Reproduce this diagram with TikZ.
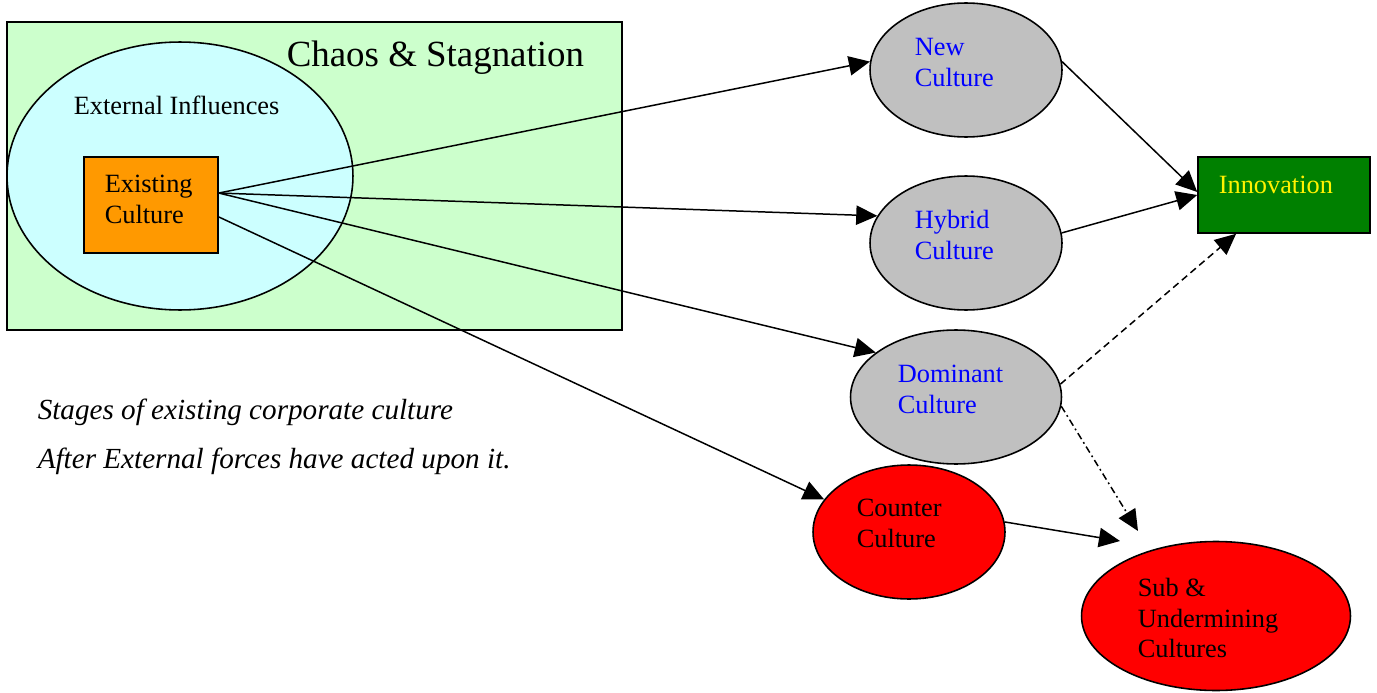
\documentclass[tikz,border=0pt]{standalone}
\usepackage{fontspec}
\setmainfont{Liberation Serif}
\usetikzlibrary{shapes.geometric,arrows.meta}
\definecolor{chaosgreen}{HTML}{CCFFCC}
\definecolor{influcyan}{HTML}{CCFFFF}
\definecolor{existorange}{HTML}{FF9900}
\definecolor{stagegray}{HTML}{C0C0C0}
\definecolor{innovgreen}{HTML}{008000}
\begin{document}
\begin{tikzpicture}[x=0.02cm, y=-0.02cm,
    every node/.style={inner sep=0pt, line width=0.9pt},
    blob/.style={ellipse, draw, minimum width=3.84cm, minimum height=2.68cm},
    lbl/.style={anchor=west, align=left, font=\fontsize{15}{17.6}\selectfont},
    arr/.style={line width=0.85pt, -{Triangle[length=12pt, width=11pt]}}]
    \useasboundingbox (0,0) rectangle (1377,693);

    % --- Chaos & Stagnation box with the existing culture ---
    \node[draw, fill=chaosgreen, minimum width=12.3cm, minimum height=6.16cm] (chaos) at (314.5,176) {};
    \node[anchor=west, font=\fontsize{21}{25}\selectfont] (chaosT) at (286,58) {Chaos \& Stagnation};
    \node[ellipse, draw, fill=influcyan, minimum width=6.92cm, minimum height=5.36cm] (extern) at (180,176) {};
    \node[lbl] (externT) at (73,105) {External Influences};
    \node[draw, fill=existorange, minimum width=2.68cm, minimum height=1.92cm] (exist) at (151,205) {};
    \node[lbl] (existT) at (104,199) {Existing\\Culture};

    % --- Stages after the external forces ---
    \node[blob, fill=stagegray] (new) at (966,70) {};
    \node[lbl, text=blue] (newT) at (914,62.5) {New\\Culture};
    \node[blob, fill=stagegray] (hybrid) at (966,243) {};
    \node[lbl, text=blue] (hybridT) at (914,235) {Hybrid\\Culture};
    \node[blob, fill=stagegray, minimum width=4.22cm] (dom) at (956,397) {};
    \node[lbl, text=blue] (domT) at (897,389.5) {Dominant\\Culture};
    \node[blob, fill=red] (counter) at (909,532) {};
    \node[lbl] (counterT) at (856,523.5) {Counter\\Culture};
    \node[blob, fill=red, minimum width=5.38cm, minimum height=2.98cm] (sub) at (1216,616) {};
    \node[lbl] (subT) at (1137,618) {Sub \&\\Undermining\\Cultures};
    \node[draw, fill=innovgreen, minimum width=3.44cm, minimum height=1.52cm] (innov) at (1284,195) {};
    \node[lbl, text=yellow] (innovT) at (1218,185) {Innovation};
    \coordinate (subA) at (1120,541);
    \coordinate (subB) at (1138,531);

    % --- Caption ---
    \node[anchor=west, align=left, font=\fontsize{16.6}{27.8}\selectfont\itshape] (caption) at (37,437)
        {Stages of existing corporate culture\\After External forces have acted upon it.};

    % --- Connectors ---
    \draw[arr] (exist.10) -- (new.175);
    \draw[arr] (exist.10) -- (hybrid.163);
    \draw[arr] (exist.10) -- (dom.151);
    \draw[arr] (exist.-10) -- (counter.159);
    \draw[arr] (new.5) -- (innov.178);
    \draw[arr] (hybrid.6) -- (innov.west);
    \draw[arr, dash pattern=on 4pt off 2.5pt] (dom.7) -- (innov.219);
    \draw[arr, dash pattern=on 4pt off 2pt on 1pt off 2pt] (dom.-5) -- (subB);
    \draw[arr] (counter.6) -- (subA);

\end{tikzpicture}
\end{document}
